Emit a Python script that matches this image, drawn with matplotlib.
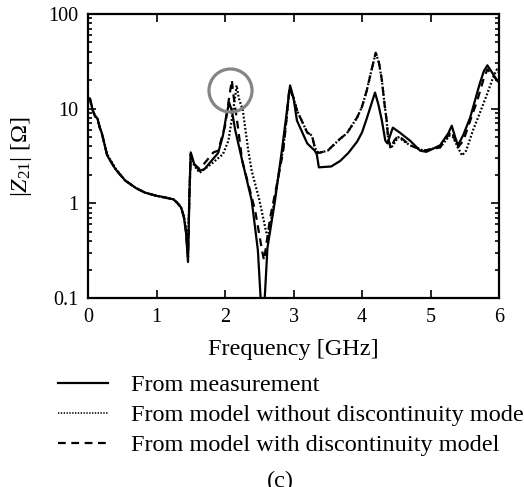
import numpy as np
import matplotlib
matplotlib.use("Agg")
import matplotlib.pyplot as plt
from matplotlib.lines import Line2D
from matplotlib.ticker import FixedLocator, LogLocator, FuncFormatter, NullFormatter

plt.rcParams['font.family'] = ['Liberation Serif', 'DejaVu Serif']
plt.rcParams['mathtext.fontset'] = 'custom'
plt.rcParams['mathtext.rm'] = 'Liberation Serif'
plt.rcParams['mathtext.it'] = 'Liberation Serif:italic'

# |Z21| from measurement
f_meas = [0.0, 0.03, 0.07, 0.1, 0.14, 0.17, 0.2, 0.28, 0.4, 0.54, 0.7, 0.83, 1.0, 1.12,
          1.25, 1.31, 1.36, 1.40, 1.43, 1.46, 1.48, 1.50, 1.55, 1.63, 1.7, 1.8, 1.9,
          1.97, 2.02, 2.06, 2.1, 2.15, 2.25, 2.39, 2.48, 2.52, 2.54, 2.56, 2.58, 2.62,
          2.73, 2.83, 2.9, 2.95, 3.0, 3.05, 3.2, 3.31, 3.34, 3.37, 3.55, 3.68, 3.8,
          3.93, 4.0, 4.07, 4.13, 4.19, 4.24, 4.29, 4.34, 4.37, 4.41, 4.45, 4.55, 4.7,
          4.85, 4.94, 5.14, 5.26, 5.31, 5.36, 5.40, 5.48, 5.58, 5.72, 5.78, 5.83, 5.9,
          5.97, 6.0]
z_meas = [13.0, 12.8, 9.5, 8.5, 7.8, 6.3, 5.6, 3.2, 2.3, 1.75, 1.45, 1.3, 1.2, 1.16,
          1.1, 1.0, 0.9, 0.71, 0.5, 0.24, 1.2, 3.45, 2.6, 2.2, 2.3, 2.8, 3.4,
          5.2, 8.5, 11.6, 9.5, 5.9, 2.85, 1.07, 0.32, 0.1, 0.05, 0.05, 0.1, 0.34,
          1.07, 3.6, 9.0, 17.6, 13.0, 7.5, 4.3, 3.6, 3.3, 2.4, 2.45, 2.8, 3.4,
          4.5, 5.6, 7.9, 10.8, 14.8, 11.0, 7.5, 4.6, 4.3, 5.2, 6.3, 5.6, 4.6,
          3.6, 3.5, 4.1, 5.5, 6.6, 5.0, 4.1, 5.3, 8.1, 18.5, 25.0, 28.7, 24.0,
          20.0, 19.0]

# |Z21| from model without discontinuity model
f_nodisc = [0.0, 0.03, 0.07, 0.1, 0.14, 0.17, 0.2, 0.28, 0.4, 0.54, 0.7, 0.83, 1.0, 1.12,
            1.25, 1.31, 1.36, 1.40, 1.43, 1.46, 1.48, 1.50, 1.55, 1.63, 1.7, 1.8, 1.9,
            1.97, 2.05, 2.12, 2.17, 2.2, 2.26, 2.34, 2.39, 2.5, 2.6, 2.63, 2.7, 2.77,
            2.85, 2.9, 2.94, 3.0, 3.05, 3.2, 3.27, 3.31, 3.36, 3.5, 3.58, 3.68, 3.78,
            3.93, 4.0, 4.07, 4.13, 4.2, 4.25, 4.29, 4.33, 4.36, 4.38, 4.42, 4.47, 4.53,
            4.7, 4.9, 5.14, 5.28, 5.33, 5.40, 5.46, 5.52, 5.62, 5.72, 5.83, 5.92, 5.97,
            6.0]
z_nodisc = [12.5, 12.3, 9.8, 8.3, 7.9, 6.5, 5.5, 3.3, 2.35, 1.75, 1.45, 1.3, 1.2, 1.15,
            1.1, 1.0, 0.9, 0.73, 0.55, 0.3, 1.3, 3.3, 2.5, 2.1, 2.3, 2.6, 3.0,
            3.3, 4.6, 9.6, 17.6, 13.0, 9.6, 3.6, 2.2, 1.1, 0.5, 0.45, 0.85, 1.8,
            3.8, 8.0, 16.0, 13.0, 9.6, 5.6, 5.2, 3.9, 3.4, 3.6, 4.1, 4.8, 5.5,
            8.1, 10.5, 15.6, 24.0, 39.0, 30.0, 20.0, 11.0, 7.5, 5.0, 3.8, 4.3, 5.0,
            4.1, 3.6, 3.9, 5.2, 5.0, 3.9, 3.2, 3.6, 5.9, 9.0, 14.5, 22.0, 26.0,
            24.0]

# |Z21| from model with discontinuity model
f_disc = [0.0, 0.03, 0.07, 0.1, 0.14, 0.17, 0.2, 0.28, 0.4, 0.54, 0.7, 0.83, 1.0, 1.12,
          1.25, 1.31, 1.36, 1.40, 1.43, 1.46, 1.48, 1.50, 1.55, 1.63, 1.71, 1.83, 1.9,
          2.0, 2.06, 2.1, 2.12, 2.19, 2.25, 2.35, 2.44, 2.54, 2.57, 2.66, 2.77, 2.85,
          2.9, 2.94, 3.0, 3.05, 3.2, 3.27, 3.31, 3.36, 3.5, 3.58, 3.68, 3.78, 3.93,
          4.0, 4.07, 4.13, 4.2, 4.25, 4.29, 4.33, 4.36, 4.38, 4.42, 4.47, 4.53, 4.7,
          4.9, 5.14, 5.28, 5.31, 5.35, 5.40, 5.48, 5.58, 5.68, 5.77, 5.83, 5.9, 5.97,
          6.0]
z_disc = [12.8, 12.5, 9.6, 8.4, 7.8, 6.4, 5.6, 3.2, 2.3, 1.75, 1.45, 1.3, 1.2, 1.15,
          1.1, 1.0, 0.9, 0.72, 0.5, 0.27, 1.2, 3.3, 2.6, 2.3, 2.7, 3.45, 3.6,
          6.5, 13.0, 20.0, 14.5, 6.3, 2.85, 1.5, 0.84, 0.32, 0.25, 0.71, 1.75, 3.6,
          8.0, 16.5, 13.0, 9.6, 5.6, 5.2, 3.9, 3.4, 3.6, 4.1, 4.8, 5.5, 8.1,
          10.5, 15.6, 24.0, 39.0, 30.0, 20.0, 11.0, 7.5, 5.0, 3.8, 4.6, 5.2, 4.1,
          3.6, 3.9, 5.5, 5.8, 4.8, 3.9, 4.6, 7.5, 12.0, 20.0, 26.0, 23.0, 20.0,
          19.0]

freq_ticks = [0, 1, 2, 3, 4, 5, 6]
z_ticks = [0.1, 1, 10, 100]

# highlighted resonance
circle_f = 2.08
circle_z = 15.6

fig = plt.figure(figsize=(5.24, 4.87), dpi=100)
ax = fig.add_axes([88 / 524, 1 - 298 / 487, (499 - 88) / 524, (298 - 14) / 487])

ax.plot(f_meas, z_meas, color='black', lw=1.6, ls='-')
ax.plot(f_nodisc, z_nodisc, color='black', lw=1.6, ls=(0, (0.8, 0.9)))
ax.plot(f_disc, z_disc, color='black', lw=1.6, ls=(0, (3.5, 2.5)))
ax.plot([circle_f], [circle_z], marker='o', ms=31, mfc='none', mec='#858585', mew=2.3)

ax.set_yscale('log')
ax.set_xlim(0, 6)
ax.set_ylim(0.1, 100)
ax.xaxis.set_major_locator(FixedLocator(freq_ticks))
ax.yaxis.set_major_locator(FixedLocator(z_ticks))
ax.yaxis.set_minor_locator(LogLocator(base=10, subs=np.arange(2, 10)))
ax.yaxis.set_minor_formatter(NullFormatter())
ax.yaxis.set_major_formatter(FuncFormatter(lambda v, p: '%g' % v))

ax.tick_params(which='both', direction='in', top=True, right=True, width=1.2)
ax.tick_params(which='major', length=6, labelsize=14.5, pad=7)
ax.tick_params(which='minor', length=3)
for sp in ax.spines.values():
    sp.set_linewidth(1.6)

ax.set_xlabel('Frequency [GHz]', fontsize=17.5, labelpad=9)
ax.set_ylabel(r'$|Z_{21}|$ [Ω]', fontsize=17.5, labelpad=10)

handles = [Line2D([], [], color='black', lw=1.6, ls='-'),
           Line2D([], [], color='black', lw=1.2, ls=(0, (0.8, 0.9))),
           Line2D([], [], color='black', lw=1.6, ls=(0, (3.5, 2.5)))]
labels = ['From measurement',
          'From model without discontinuity model',
          'From model with discontinuity model']
fig.legend(handles, labels, loc='upper left', bbox_to_anchor=(58 / 524, 1 - 374 / 487),
           frameon=False, fontsize=17.5, borderpad=0, borderaxespad=0,
           handlelength=2.05, handletextpad=0.95, labelspacing=0.33)

fig.text(280 / 524, 1 - 481 / 487, '(c)', fontsize=17.5, ha='center', va='center')

fig.savefig('out.png', dpi=100)
